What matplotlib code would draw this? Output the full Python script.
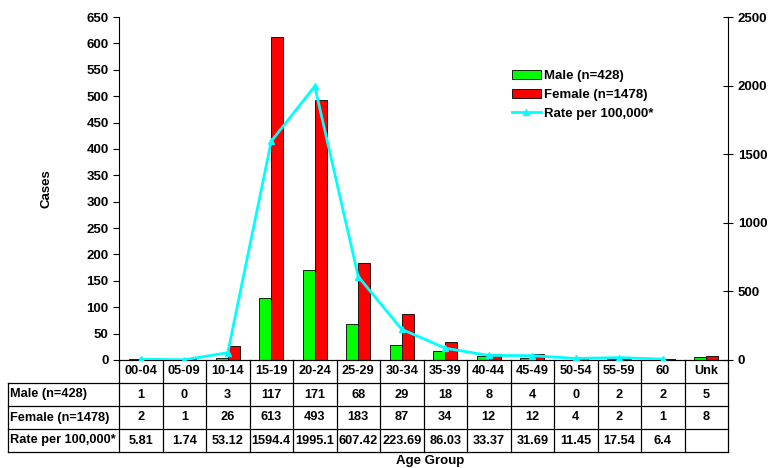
import numpy as np
import matplotlib.pyplot as plt
import matplotlib.transforms as mtransforms

plt.rcParams['font.family'] = ['Liberation Sans', 'DejaVu Sans']
plt.rcParams['font.weight'] = 'bold'

# Data
age_groups = ['00-04', '05-09', '10-14', '15-19', '20-24', '25-29', '30-34',
              '35-39', '40-44', '45-49', '50-54', '55-59', '60', 'Unk']
male = [1, 0, 3, 117, 171, 68, 29, 18, 8, 4, 0, 2, 2, 5]
female = [2, 1, 26, 613, 493, 183, 87, 34, 12, 12, 4, 2, 1, 8]
rate = [5.81, 1.74, 53.12, 1594.4, 1995.1, 607.42, 223.69, 86.03, 33.37,
        31.69, 11.45, 17.54, 6.4]
rate_labels = ['5.81', '1.74', '53.12', '1594.4', '1995.1', '607.42', '223.69',
               '86.03', '33.37', '31.69', '11.45', '17.54', '6.4', '']
row_names = ['Male (n=428)', 'Female (n=1478)', 'Rate per 100,000*']

fs = 9.5
tfs = 9.2
W, H = 768, 468
fig = plt.figure(figsize=(W / 100, H / 100), dpi=100)
ax = fig.add_axes([119 / W, (H - 360) / H, (728 - 119) / W, (360 - 17) / H])

x = np.arange(len(age_groups))
bw = 0.28
ax.bar(x - bw / 2, male, bw, color='#00ff00', edgecolor='black', linewidth=0.6,
       label='Male (n=428)', zorder=2)
ax.bar(x + bw / 2, female, bw, color='#ff0000', edgecolor='black', linewidth=0.6,
       label='Female (n=1478)', zorder=2)

ax.set_xlim(-0.5, len(age_groups) - 0.5)
ax.set_ylim(0, 650)
ax.set_yticks(np.arange(0, 651, 50))
ax.set_xticks([])
ax.tick_params(axis='y', direction='out', length=4, labelsize=fs)
ax.spines['top'].set_visible(False)
ax.spines['right'].set_visible(False)
ax.set_ylabel('Cases', fontsize=fs, fontweight='bold', labelpad=24)

ax2 = ax.twinx()
ax2.plot(x[:len(rate)], rate, color='#00ffff', linewidth=2, marker='^',
         markersize=5, label='Rate per 100,000*', zorder=3)
ax2.set_ylim(0, 2500)
ax2.set_yticks(np.arange(0, 2501, 500))
ax2.tick_params(axis='y', direction='inout', length=7, labelsize=fs)
ax2.spines['top'].set_visible(False)
ax2.spines['left'].set_visible(False)
ax2.set_xticks([])

h1, l1 = ax.get_legend_handles_labels()
h2, l2 = ax2.get_legend_handles_labels()
ax.legend(h1 + h2, l1 + l2, loc='upper left', bbox_to_anchor=(0.625, 0.88),
          frameon=False, fontsize=fs, handlelength=2.2, handletextpad=0.3,
          labelspacing=0.5)

# Data table under the chart
trans = mtransforms.blended_transform_factory(ax.transData, ax.transAxes)
rh = 23 / 343
x_left = -0.5 + (8 - 119) / 43.5
x_right = len(age_groups) - 0.5
line_kw = dict(color='black', linewidth=0.9, transform=trans, clip_on=False)

for i in range(1, 5):
    ax.plot([x_left, x_right], [-i * rh, -i * rh], **line_kw)
ax.plot([x_left, x_left], [-rh, -4 * rh], **line_kw)
for k in range(len(age_groups) + 1):
    xv = k - 0.5
    ax.plot([xv, xv], [0, -4 * rh], **line_kw)

txt_kw = dict(transform=trans, fontsize=tfs, fontweight='bold', va='center',
              clip_on=False)
for k, lab in enumerate(age_groups):
    ax.text(k, -0.5 * rh, lab, ha='center', **txt_kw)
rows = [[str(v) for v in male], [str(v) for v in female], rate_labels]
for r, (name, vals) in enumerate(zip(row_names, rows)):
    yc = -(r + 1.5) * rh
    ax.text(x_left + 0.05, yc, name, ha='left', **txt_kw)
    for k, v in enumerate(vals):
        ax.text(k, yc, v, ha='center', **txt_kw)

fig.text(430 / W, 1 - 461 / H, 'Age Group', ha='center', va='center',
         fontsize=fs, fontweight='bold')

fig.savefig('out.png', dpi=100)
